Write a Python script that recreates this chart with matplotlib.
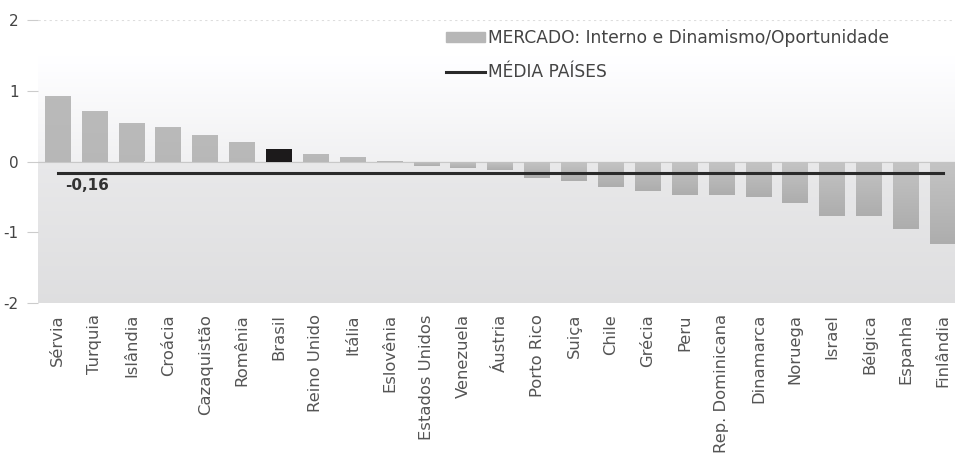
import numpy as np
import matplotlib
matplotlib.use('Agg')
import matplotlib.pyplot as plt
from matplotlib.patches import Patch
from matplotlib.lines import Line2D

paises = ['Sérvia', 'Turquia', 'Islândia', 'Croácia', 'Cazaquistão', 'Romênia',
          'Brasil', 'Reino Unido', 'Itália', 'Eslovênia', 'Estados Unidos',
          'Venezuela', 'Áustria', 'Porto Rico', 'Suiça', 'Chile', 'Grécia',
          'Peru', 'Rep. Dominicana', 'Dinamarca', 'Noruega', 'Israel',
          'Bélgica', 'Espanha', 'Finlândia']
valores = [0.93, 0.72, 0.55, 0.49, 0.37, 0.28, 0.17, 0.10, 0.06, 0.01, -0.07,
           -0.09, -0.12, -0.24, -0.28, -0.36, -0.42, -0.48, -0.48, -0.50,
           -0.59, -0.77, -0.77, -0.96, -1.16]
media = -0.16
destaque = 'Brasil'
yticks = [-2, -1, 0, 1, 2]

fig = plt.figure(figsize=(9.55, 4.55), dpi=100)
ax = fig.add_axes([38/955, 1 - 303/455, 917/955, 283/455])

n = len(paises)
x = np.arange(n)
xmin, xmax = -0.535, n - 1 + 0.33
ax.set_xlim(xmin, xmax)
ax.set_ylim(-2, 2)

# fundo em degradê vertical (branco em cima, cinza embaixo)
yy = np.linspace(2, -2, 400)
col = np.where(yy > 0,
               1.0 - (1.48 - yy) / 1.48 * 0.055,
               0.912 - (-yy) / 2 * 0.04)
col[yy > 1.48] = 1.0
col = col[:, None]
bg = np.dstack([col, col, np.clip(col * 1.006, 0, 1)])
ax.imshow(bg, extent=[xmin, xmax, -2, 2], aspect='auto', zorder=0)

# barras com leve degradê
cores = ['#1c1a1b' if p == destaque else '#b7b7b7' for p in paises]
barras = ax.bar(x, valores, width=0.7, color=cores, zorder=2)
for b, p, v in zip(barras, paises, valores):
    if p == destaque:
        continue
    x0 = b.get_x()
    if v < 0:
        g = np.linspace(0.77, 0.68, 50)[:, None]
    else:
        g = np.linspace(0.73, 0.72, 50)[:, None]
    img = np.dstack([g, g, g])
    im = ax.imshow(img, extent=[x0, x0 + b.get_width(), min(0, v), max(0, v)],
                   aspect='auto', zorder=3)
    im.set_clip_path(b)

# linha da média
ax.plot([x[0], x[-1]], [media, media], color='#2a2a2a', lw=2.2, zorder=4)
ax.text(0.2, media - 0.08, '-0,16', fontsize=11, fontweight='bold',
        color='#333333', va='top', ha='left', zorder=5)

# linha pontilhada no topo
ax.axhline(2, color='#dddddd', lw=0.8, ls=(0, (2, 3)), zorder=1)
ax.axhline(0, color='#c8c8c8', lw=0.8, zorder=1)

for s in ax.spines.values():
    s.set_visible(False)
ax.set_yticks(yticks)
ax.set_yticklabels([str(t) for t in yticks], fontsize=11, color='#444444')
ax.tick_params(axis='y', length=8, color='#cccccc', pad=6)
ax.set_xticks(x)
ax.set_xticklabels(paises, rotation=90, fontsize=11.8, color='#555555')
ax.tick_params(axis='x', length=0, pad=8)

handles = [Patch(color='#b7b7b7'), Line2D([0], [0], color='#2a2a2a', lw=2.2)]
leg = ax.legend(handles, ['MERCADO: Interno e Dinamismo/Oportunidade', 'MÉDIA PAÍSES'],
                loc='upper left', bbox_to_anchor=(446/955, 1 - 29/455),
                bbox_transform=fig.transFigure, frameon=False, fontsize=12.3,
                handlelength=2.3, handleheight=0.5, handletextpad=0.15,
                labelspacing=0.95, borderpad=0, borderaxespad=0)
for t in leg.get_texts():
    t.set_color('#444444')

fig.savefig('out.png', dpi=100)
